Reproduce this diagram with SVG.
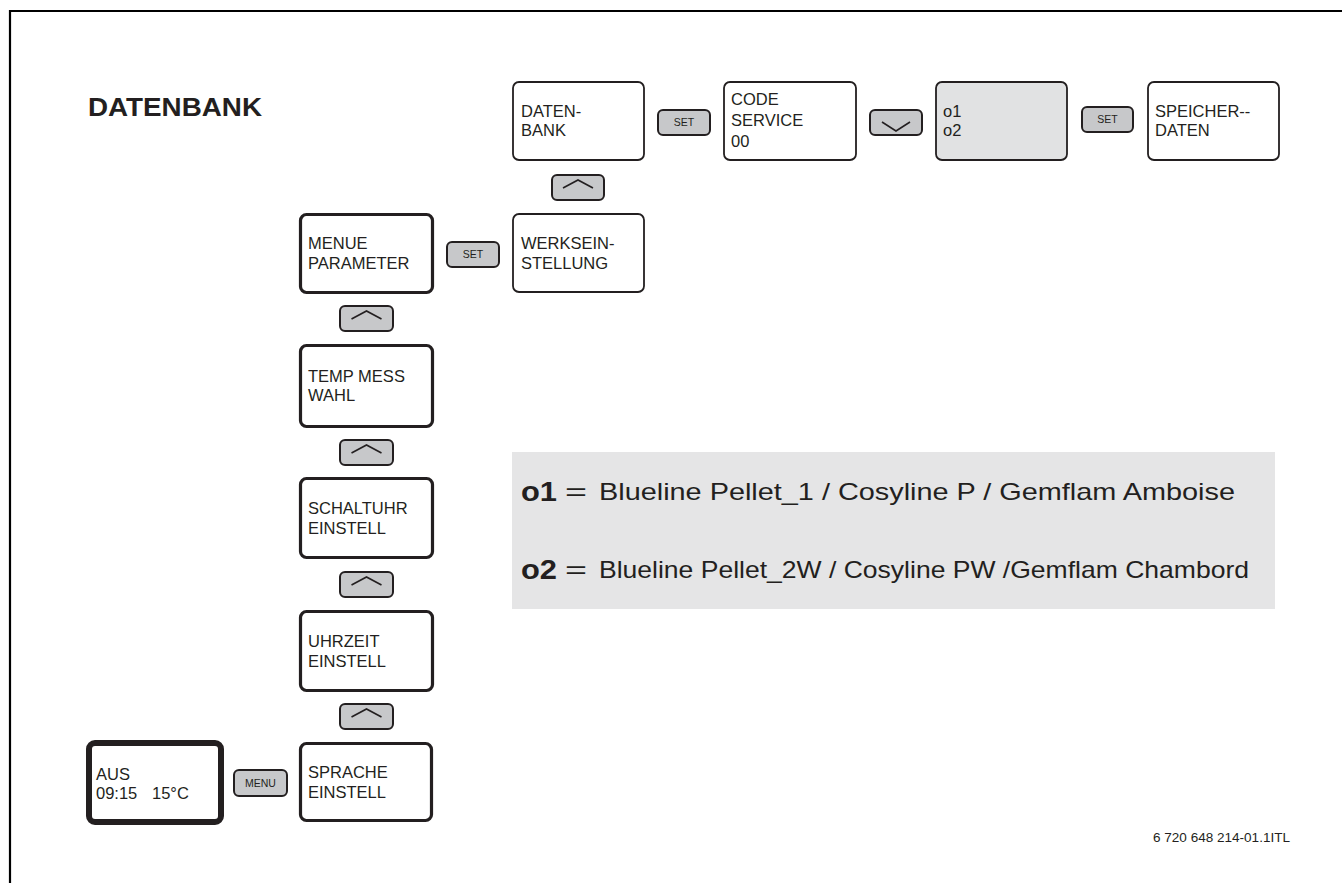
<svg xmlns="http://www.w3.org/2000/svg" width="1342" height="883" viewBox="0 0 1342 883">
<style>
text{font-family:"Liberation Sans",Arial,sans-serif;fill:#231f20}
.t{font-size:16.5px}
.bt{font-size:10.5px;text-anchor:middle}
.lg{font-size:24px}
.lb{font-size:28px;font-weight:bold}
.box{fill:#fff;stroke:#231f20;stroke-width:1.8}
.box2{fill:#fff;stroke:#231f20;stroke-width:3.2}
.box3{fill:#fff;stroke:#231f20;stroke-width:6}
.gray{fill:#e1e2e3;stroke:#231f20;stroke-width:1.8}
.btn{fill:#c7c8ca;stroke:#231f20;stroke-width:2}
.chev{fill:none;stroke:#231f20;stroke-width:1.6;stroke-linejoin:miter}
</style>
<rect width="1342" height="883" fill="#fff"/>
<path d="M10 883 V11 H1342" fill="none" stroke="#000" stroke-width="2.2"/>
<text x="88" y="116" style="font-size:25px;font-weight:bold" textLength="174" lengthAdjust="spacingAndGlyphs">DATENBANK</text>

<g id="n_datenbank"><rect class="box" x="513" y="82" width="131" height="78" rx="6"/><text class="t" x="521" y="117">DATEN-</text><text class="t" x="521" y="136">BANK</text></g>
<g id="n_code"><rect class="box" x="724" y="82" width="132" height="78" rx="6"/><text class="t" x="731" y="105">CODE</text><text class="t" x="731" y="126">SERVICE</text><text class="t" x="731" y="147">00</text></g>
<g id="n_o1o2"><rect class="gray" x="936" y="82" width="131" height="78" rx="6"/><text class="t" x="943" y="117">o1</text><text class="t" x="943" y="136">o2</text></g>
<g id="n_speicher"><rect class="box" x="1148" y="82" width="131" height="78" rx="6"/><text class="t" x="1155" y="117">SPEICHER--</text><text class="t" x="1155" y="136">DATEN</text></g>
<g id="n_werks"><rect class="box" x="513" y="214" width="131" height="78" rx="6"/><text class="t" x="521" y="249">WERKSEIN-</text><text class="t" x="521" y="269">STELLUNG</text></g>
<g id="n_menue"><rect class="box2" x="300.5" y="214.5" width="132" height="78" rx="6"/><text class="t" x="308" y="249">MENUE</text><text class="t" x="308" y="269">PARAMETER</text></g>
<g id="n_temp"><rect class="box2" x="300.5" y="345.5" width="132" height="81" rx="6"/><text class="t" x="308" y="382">TEMP MESS</text><text class="t" x="308" y="401">WAHL</text></g>
<g id="n_schalt"><rect class="box2" x="300.5" y="478.5" width="132" height="79" rx="6"/><text class="t" x="308" y="514">SCHALTUHR</text><text class="t" x="308" y="534">EINSTELL</text></g>
<g id="n_uhr"><rect class="box2" x="300.5" y="611.5" width="132" height="79" rx="6"/><text class="t" x="308" y="647">UHRZEIT</text><text class="t" x="308" y="667">EINSTELL</text></g>
<g id="n_sprache"><rect class="box2" x="300.5" y="743.5" width="131" height="77" rx="6"/><text class="t" x="308" y="778">SPRACHE</text><text class="t" x="308" y="798">EINSTELL</text></g>
<g id="n_aus"><rect class="box3" x="89" y="743" width="132" height="79" rx="6"/><text class="t" x="96" y="780">AUS</text><text class="t" x="96" y="799">09:15</text><text class="t" x="152" y="799">15°C</text></g>

<g id="connectors">
<g id="b_set1"><rect class="btn" x="658" y="110" width="52" height="25" rx="5"/><text class="bt" x="684" y="126">SET</text></g>
<g id="b_down"><rect class="btn" x="870" y="110" width="52" height="25" rx="5"/><path class="chev" d="M882 122 L896 131 L910 122"/></g>
<g id="b_set2"><rect class="btn" x="1082" y="107" width="51" height="25" rx="5"/><text class="bt" x="1107.5" y="123">SET</text></g>
<g id="b_up1"><rect class="btn" x="552" y="175" width="52" height="25" rx="5"/><path class="chev" d="M563 188 L578 180 L593 188"/></g>
<g id="b_set3"><rect class="btn" x="447" y="242" width="52" height="25" rx="5"/><text class="bt" x="473" y="258">SET</text></g>
<g id="b_up2"><rect class="btn" x="340" y="306" width="53" height="25" rx="5"/><path class="chev" d="M351.5 319 L366.5 311 L381.5 319"/></g>
<g id="b_up3"><rect class="btn" x="340" y="440" width="53" height="25" rx="5"/><path class="chev" d="M351.5 453 L366.5 445 L381.5 453"/></g>
<g id="b_up4"><rect class="btn" x="340" y="572" width="53" height="25" rx="5"/><path class="chev" d="M351.5 585 L366.5 577 L381.5 585"/></g>
<g id="b_up5"><rect class="btn" x="340" y="704" width="53" height="25" rx="5"/><path class="chev" d="M351.5 717 L366.5 709 L381.5 717"/></g>
<g id="b_menu"><rect class="btn" x="234" y="770" width="53" height="26" rx="5"/><text class="bt" x="260.5" y="787">MENU</text></g>
</g>

<g id="legend">
<rect x="512" y="452" width="763" height="157" fill="#e5e5e6"/>
<text class="lb" x="521" y="501" textLength="36" lengthAdjust="spacingAndGlyphs">o1</text>
<text class="lg" x="565" y="500" textLength="22" lengthAdjust="spacingAndGlyphs">=</text>
<text class="lg" x="599" y="500" textLength="636" lengthAdjust="spacingAndGlyphs">Blueline Pellet_1 / Cosyline P / Gemflam Amboise</text>
<text class="lb" x="521" y="579" textLength="36" lengthAdjust="spacingAndGlyphs">o2</text>
<text class="lg" x="565" y="578" textLength="22" lengthAdjust="spacingAndGlyphs">=</text>
<text class="lg" x="599" y="578" textLength="650" lengthAdjust="spacingAndGlyphs">Blueline Pellet_2W / Cosyline PW /Gemflam Chambord</text>
</g>
<text x="1153" y="842" style="font-size:12px" textLength="137" lengthAdjust="spacingAndGlyphs">6 720 648 214-01.1ITL</text>
</svg>
